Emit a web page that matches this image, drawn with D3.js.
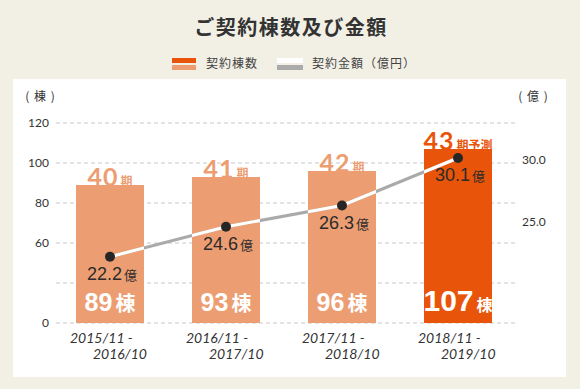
<!DOCTYPE html>
<html>
<head>
<meta charset="utf-8">
<script src="https://cdn.jsdelivr.net/npm/d3@7"></script>
<style>
  body { margin: 0; background: #f2f0e5; }
  svg { display: block; }
  .jp { font-family: "Noto Sans CJK JP", "Noto Sans", sans-serif; }
</style>
</head>
<body>
<div class="chart"></div>
<script>
// data
var periods = ["2015/11 -", "2016/11 -", "2017/11 -", "2018/11 -"];
var periodsEnd = ["2016/10", "2017/10", "2018/10", "2019/10"];
var terms = ["40", "41", "42", "43"];
var termSuffix = ["期", "期", "期", "期予測"];
var counts = [89, 93, 96, 107];
var amounts = [22.2, 24.6, 26.3, 30.1];
var leftTicks = [20, 40, 60, 80, 100, 120];
var leftTickLabels = ["0", "", "60", "80", "100", "120"];
var rightTicks = [25, 30];

var width = 580, height = 389;
var light = "#ec9e72", dark = "#e8550a";

var svg = d3.select(".chart").append("svg")
    .attr("width", width)
    .attr("height", height);

// white panel
svg.append("rect")
    .attr("x", 13).attr("y", 79)
    .attr("width", 553).attr("height", 298)
    .attr("fill", "#fff");

// title
svg.append("text")
    .attr("class", "jp")
    .attr("x", 291).attr("y", 35)
    .attr("text-anchor", "middle")
    .style("font-size", "20px")
    .style("font-weight", "bold")
    .style("letter-spacing", "1.5px")
    .attr("fill", "#333")
    .text("ご契約棟数及び金額");

// legend
var lg = svg.append("g");
lg.append("rect").attr("x", 172).attr("y", 58).attr("width", 24).attr("height", 5).attr("fill", dark);
lg.append("rect").attr("x", 172).attr("y", 65).attr("width", 24).attr("height", 5).attr("fill", light);
lg.append("text").attr("class", "jp").attr("x", 206).attr("y", 68)
    .style("font-size", "12px").style("letter-spacing", "1px").attr("fill", "#444").text("契約棟数");
lg.append("rect").attr("x", 277).attr("y", 58).attr("width", 26).attr("height", 5).attr("fill", "#fff");
lg.append("rect").attr("x", 277).attr("y", 65).attr("width", 26).attr("height", 5).attr("fill", "#aaa");
lg.append("text").attr("class", "jp").attr("x", 312).attr("y", 68)
    .style("font-size", "12px").style("letter-spacing", "1px").attr("fill", "#444").text("契約金額（億円）");

// scales
var x = d3.scaleBand()
    .domain(periods)
    .range([52, 516])
    .paddingInner(0.414)
    .paddingOuter(0.207);

var y = d3.scaleLinear()
    .domain([20, 120])
    .range([323, 123]);

var y2 = d3.scaleLinear()
    .domain([16.9, 32.9])
    .range([323, 123]);

// grid
svg.append("g").selectAll("line")
    .data(leftTicks)
    .enter().append("line")
    .attr("x1", 56).attr("x2", 517)
    .attr("y1", function(d) { return y(d); })
    .attr("y2", function(d) { return y(d); })
    .attr("stroke", "#c8c8c8")
    .attr("stroke-dasharray", "4,3");

// left axis
var yAxis = d3.axisLeft(y)
    .tickValues(leftTicks)
    .tickSize(0)
    .tickFormat(function(d, i) { return leftTickLabels[i]; });

svg.append("g")
    .attr("transform", "translate(52,0)")
    .call(yAxis)
    .call(function(g) { g.select(".domain").remove(); })
    .selectAll("text")
    .attr("fill", "#333")
    .style("font-family", "Lato, sans-serif")
    .style("font-size", "12px");

// right axis
var y2Axis = d3.axisRight(y2)
    .tickValues(rightTicks)
    .tickSize(0)
    .tickFormat(d3.format(".1f"));

svg.append("g")
    .attr("transform", "translate(519,0)")
    .call(y2Axis)
    .call(function(g) { g.select(".domain").remove(); })
    .selectAll("text")
    .attr("fill", "#333")
    .style("font-family", "Lato, sans-serif")
    .style("font-size", "12px");

// axis units
svg.append("text").attr("class", "jp").attr("x", 40).attr("y", 101)
    .attr("text-anchor", "middle").style("font-size", "12px").attr("fill", "#333")
    .style("word-spacing", "2px").text("( 棟 )");
svg.append("text").attr("class", "jp").attr("x", 533).attr("y", 101)
    .attr("text-anchor", "middle").style("font-size", "12px").attr("fill", "#333")
    .style("word-spacing", "2px").text("( 億 )");

// bars
var bars = svg.append("g").selectAll("rect")
    .data(counts)
    .enter().append("rect")
    .attr("x", function(d, i) { return x(periods[i]); })
    .attr("width", x.bandwidth())
    .attr("y", function(d) { return y(d); })
    .attr("height", function(d) { return y(20) - y(d); })
    .attr("fill", function(d, i) { return i === 3 ? dark : light; });

// clip path for white part of line
var clip = svg.append("clipPath").attr("id", "barclip");
clip.selectAll("rect")
    .data(counts)
    .enter().append("rect")
    .attr("x", function(d, i) { return x(periods[i]); })
    .attr("width", x.bandwidth())
    .attr("y", function(d) { return y(d); })
    .attr("height", function(d) { return y(20) - y(d); });

// term labels on top of bars
var termText = svg.append("g").selectAll("text")
    .data(counts)
    .enter().append("text")
    .attr("x", function(d, i) { return x(periods[i]) + x.bandwidth() / 2; })
    .attr("y", function(d) { return y(d) + 1; })
    .attr("text-anchor", "middle")
    .attr("fill", function(d, i) { return i === 3 ? dark : light; });
termText.append("tspan")
    .style("font-family", "Lato, sans-serif")
    .style("font-size", "25px")
    .style("font-weight", "bold")
    .style("letter-spacing", "1px")
    .text(function(d, i) { return terms[i]; });
termText.append("tspan")
    .attr("class", "jp")
    .attr("dx", 2)
    .style("font-size", "12px")
    .style("font-weight", "bold")
    .text(function(d, i) { return termSuffix[i]; });

// count labels inside bars
var countText = svg.append("g").selectAll("text")
    .data(counts)
    .enter().append("text")
    .attr("x", function(d, i) { return x(periods[i]) + x.bandwidth() / 2; })
    .attr("y", 311)
    .attr("text-anchor", "middle")
    .attr("fill", "#fff")
    .style("font-weight", "bold");
countText.append("tspan")
    .style("font-family", "'Liberation Sans Narrow', 'Liberation Sans', sans-serif")
    .style("font-size", function(d, i) { return i === 3 ? "30px" : "25px"; })
    .text(function(d) { return d; });
countText.append("tspan")
    .attr("class", "jp")
    .attr("dx", 3)
    .style("font-size", function(d, i) { return i === 3 ? "16px" : "20px"; })
    .text("棟");

// line
var line = d3.line()
    .x(function(d, i) { return x(periods[i]) + x.bandwidth() / 2; })
    .y(function(d) { return y2(d); });

svg.append("path")
    .datum(amounts)
    .attr("d", line)
    .attr("fill", "none")
    .attr("stroke", "#aaa")
    .attr("stroke-width", 3);

svg.append("path")
    .datum(amounts)
    .attr("d", line)
    .attr("clip-path", "url(#barclip)")
    .attr("fill", "none")
    .attr("stroke", "#fff")
    .attr("stroke-width", 3);

svg.append("g").selectAll("circle")
    .data(amounts)
    .enter().append("circle")
    .attr("cx", function(d, i) { return x(periods[i]) + x.bandwidth() / 2; })
    .attr("cy", function(d) { return y2(d); })
    .attr("r", 5)
    .attr("fill", "#262626");

// amount labels
var amtText = svg.append("g").selectAll("text")
    .data(amounts)
    .enter().append("text")
    .attr("x", function(d, i) { return x(periods[i]) + x.bandwidth() / 2 + 2; })
    .attr("y", function(d) { return y2(d) + 23; })
    .attr("text-anchor", "middle")
    .attr("fill", "#2b2b2b");
amtText.append("tspan")
    .style("font-family", "'Liberation Sans', sans-serif")
    .style("font-size", "18px")
    .style("font-weight", "500")
    .text(function(d) { return d.toFixed(1); });
amtText.append("tspan")
    .attr("class", "jp")
    .attr("dx", 2)
    .style("font-size", "13px")
    .text("億");

// x labels
var xl = svg.append("g").selectAll("g")
    .data(periods)
    .enter().append("g")
    .attr("transform", function(d) { return "translate(" + (x(d) + x.bandwidth() / 2) + ",0)"; });
xl.append("text")
    .attr("x", -40).attr("y", 343)
    .style("font-family", "Lato, sans-serif")
    .style("font-style", "italic")
    .style("font-size", "14px")
    .attr("fill", "#333")
    .text(function(d) { return d; });
xl.append("text")
    .attr("x", -17).attr("y", 359)
    .style("font-family", "Lato, sans-serif")
    .style("font-style", "italic")
    .style("font-size", "14px")
    .attr("fill", "#333")
    .text(function(d, i) { return periodsEnd[i]; });
</script>
</body>
</html>
